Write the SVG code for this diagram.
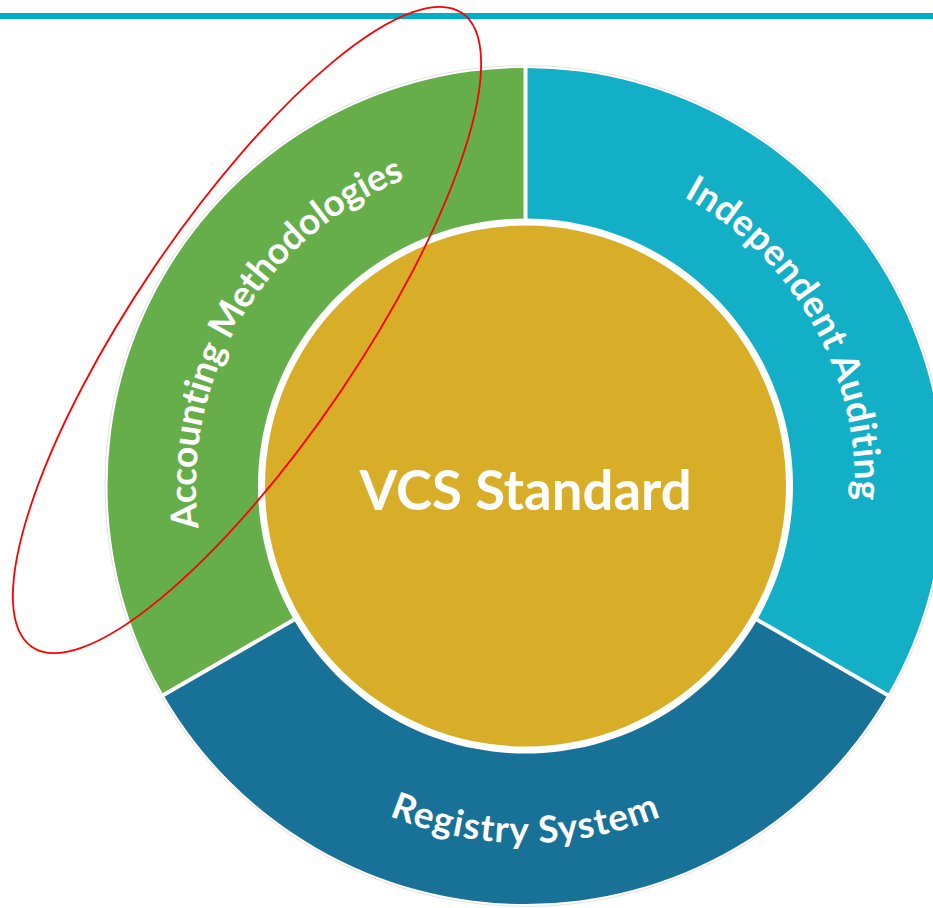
<svg xmlns="http://www.w3.org/2000/svg" width="933" height="908" viewBox="0 0 933 908">
  <style>
    .seg-label { font-family: Lato, "Open Sans", "Liberation Sans", sans-serif; font-weight: 700; font-size: 37px; fill: #ffffff; letter-spacing: 0.5px; }
    .center-label { font-family: Lato, "Open Sans", "Liberation Sans", sans-serif; font-weight: 700; font-size: 54.5px; fill: #ffffff; }
    .sep { stroke: #ffffff; stroke-width: 4; fill: none; }
  </style>
  <defs>
    <path id="arcAcc" d="M 240.15 650.75 A 329.5 329.5 0 0 1 525.5 156.5"/>
    <path id="arcInd" d="M 525.5 156.5 A 329.5 329.5 0 0 1 810.85 650.75"/>
    <path id="arcReg" d="M 216.33 664.5 A 357 357 0 0 0 834.67 664.5"/>
  </defs>
  <rect x="0" y="0" width="933" height="908" fill="#ffffff"/>
  <rect id="top-rule" x="0" y="13" width="933" height="6" fill="#00AEC7"/>
  <circle cx="525.5" cy="486" r="420.5" fill="none" stroke="#d6d6d6" stroke-width="0.7"/>

  <g id="accounting-methodologies">
    <path d="M 163.5 695 A 418 418 0 0 1 525.5 68 L 525.5 218.5 A 267.5 267.5 0 0 0 293.84 619.75 Z" fill="#65AE4A"/>
    <text class="seg-label" style="letter-spacing:-0.3px"><textPath href="#arcAcc" startOffset="50.5%" text-anchor="middle">Accounting Methodologies</textPath></text>
  </g>
  <g id="independent-auditing">
    <path d="M 525.5 68 A 418 418 0 0 1 887.5 695 L 757.16 619.75 A 267.5 267.5 0 0 0 525.5 218.5 Z" fill="#13AFC7"/>
    <text class="seg-label"><textPath href="#arcInd" startOffset="50.5%" text-anchor="middle">Independent Auditing</textPath></text>
  </g>
  <g id="registry-system">
    <path d="M 887.5 695 A 418 418 0 0 1 163.5 695 L 293.84 619.75 A 267.5 267.5 0 0 0 757.16 619.75 Z" fill="#187298"/>
    <text class="seg-label" style="letter-spacing:1.2px"><textPath href="#arcReg" startOffset="50%" text-anchor="middle">Registry System</textPath></text>
  </g>

  <g id="separators">
    <line class="sep" x1="525.5" y1="64" x2="525.5" y2="220"/>
    <line class="sep" x1="160" y1="697" x2="296" y2="618.5"/>
    <line class="sep" x1="891" y1="697" x2="755" y2="618.5"/>
  </g>

  <g id="vcs-standard">
    <circle cx="525.5" cy="486" r="260.5" fill="#D8AE28"/>
    <text class="center-label" x="525.5" y="510" text-anchor="middle">VCS Standard</text>
  </g>

  <g id="highlight">
    <ellipse cx="247" cy="330" rx="383" ry="112" transform="rotate(-55.85 247 330)" fill="none" stroke="#FF0000" stroke-width="1.8"/>
  </g>
</svg>
